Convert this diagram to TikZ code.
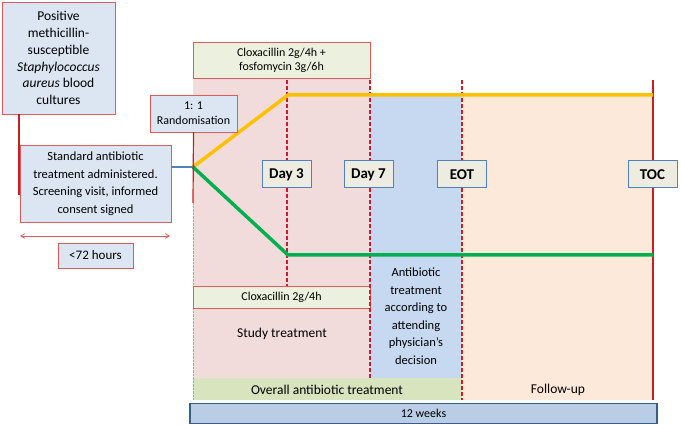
\documentclass[tikz,border=0pt]{standalone}
\usepackage{fontspec}
\setmainfont{Carlito}
\usetikzlibrary{positioning, arrows}
\definecolor{boxred}{RGB}{222,92,92}
\definecolor{linered}{RGB}{200,30,40}
\definecolor{paleblue}{RGB}{220,230,242}
\definecolor{palegreen}{RGB}{235,241,222}
\definecolor{bandgreen}{RGB}{215,228,189}
\definecolor{studypink}{RGB}{242,220,219}
\definecolor{freeblue}{RGB}{198,217,241}
\definecolor{followpeach}{RGB}{253,233,217}
\definecolor{daygrey}{RGB}{238,236,225}
\definecolor{dayblue}{RGB}{79,129,189}
\definecolor{weekfill}{RGB}{185,205,229}
\definecolor{weekedge}{RGB}{56,93,138}
\definecolor{armorange}{RGB}{255,192,0}
\definecolor{armgreen}{RGB}{0,176,80}
\tikzstyle{infobox}=[draw=boxred, fill=paleblue, align=center, inner sep=1pt, font=\fontsize{12.5}{17.5}\selectfont]
\tikzstyle{drugbox}=[draw=boxred, fill=palegreen, align=center, inner sep=1pt, font=\fontsize{12}{14}\selectfont]
\tikzstyle{daybox}=[draw=dayblue, line width=1pt, fill=daygrey, minimum width=49pt, minimum height=27pt, font=\fontsize{15}{17}\selectfont\bfseries]
\tikzstyle{timeline}=[linered, line width=1.2pt, dashed, dash pattern=on 4pt off 2pt]
\tikzstyle{arm}=[line width=3.5pt]
\tikzstyle{plain}=[align=center, font=\fontsize{13.5}{17.5}\selectfont]

\begin{document}
\begin{tikzpicture}[x=1pt, y=-1pt, >=angle 60]
    \useasboundingbox (0,0) rectangle (681,425);
    % background periods
    \fill[studypink] (193,78) rectangle (370,378);
    \fill[freeblue] (370,96) rectangle (462,378);
    \fill[followpeach] (462,96) rectangle (653,400);
    \fill[bandgreen] (193,378) rectangle (462,400);
    \draw[paleblue!70!blue, densely dotted] (193,203) -- (193,400);
    \coordinate (split) at (193,167);
    \coordinate (upbend) at (288,95);
    \coordinate (upend) at (653,95);
    \coordinate (lowbend) at (288,255);
    \coordinate (lowend) at (653,255);
    \coordinate (d3top) at (287,80);
    \coordinate (d7top) at (370,80);
    \coordinate (d7bot) at (370,378);
    \coordinate (eottop) at (462,80);
    \coordinate (eotbot) at (462,400);
    \coordinate (toctop) at (653,80);
    \coordinate (tocbot) at (653,400);
    \node [infobox, font=\fontsize{13.5}{16.9}\selectfont, minimum width=113pt, minimum height=112pt] (pos) at (58.5,58)
        {Positive\\methicillin-\\susceptible\\\textit{Staphylococcus}\\\textit{aureus} blood\\cultures};
    \node [infobox, minimum width=151pt, minimum height=77pt] (std) at (95.5,183.5)
        {Standard antibiotic\\treatment administered.\\Screening visit, informed\\consent signed};
    \node [infobox, font=\fontsize{13}{15}\selectfont, minimum width=75pt, minimum height=25pt] (hrs) at (95.5,255.5) {<72 hours};
    \node [drugbox, minimum width=177pt, minimum height=36pt] (combo) at (281.5,60)
        {Cloxacillin 2g/4h +\\fosfomycin 3g/6h};
    \node [drugbox, minimum width=177pt, minimum height=22pt] (clox) at (281.5,297) {Cloxacillin 2g/4h};
    % screening and randomisation
    \coordinate (scrtop) at (19,114);
    \coordinate (scrbot) at (19,195);
    \draw[linered, line width=1.2pt] (scrtop) -- (scrbot);
    \coordinate (winl) at (20,236);
    \coordinate (winr) at (170,236);
    \draw[<->, boxred, thick] (winl) -- (winr);
    \draw[dayblue, line width=1.5pt] (std.east |- split) -- (split);
    % visits
    \draw[timeline] (d3top) -- (d3top |- clox.north);
    \draw[timeline] (d7top) -- (d7bot);
    \draw[timeline] (eottop) -- (eotbot);
    \draw[linered, line width=1.2pt] (toctop) -- (tocbot);
    % arms
    \draw[arm, armorange] (split) -- (upbend) -- (upend);
    \draw[arm, armgreen] (split) -- (lowbend) -- (lowend);
    \node [infobox, font=\fontsize{12}{15}\selectfont, minimum width=87pt, minimum height=37pt] (rand) at (193.5,113.5)
        {1: 1\\Randomisation};
    \draw[linered, line width=1.2pt] (rand.south) -- (193,203);
    \node [daybox] (day3) at (286.5,174.5) {Day 3};
    \node [daybox] (day7) at (368.5,174.5) {Day 7};
    \node [daybox] (eot) at (462,174.5) {EOT};
    \node [daybox] (toc) at (652.5,174.5) {TOC};
    % period labels
    \node [plain] (study) at (282,334) {Study treatment};
    \node [plain, font=\fontsize{12.5}{17.5}\selectfont] (free) at (416,316) {Antibiotic\\treatment\\according to\\attending\\physician’s\\decision};
    \node [plain] (overall) at (327,390) {Overall antibiotic treatment};
    \node [plain] (follow) at (558,390) {Follow-up};
    \node [draw=weekedge, line width=1.5pt, fill=weekfill, minimum width=467pt, minimum height=20pt,
        font=\fontsize{12}{12}\selectfont] (weeks) at (423.5,413.5) {12 weeks};
\end{tikzpicture}
\end{document}
